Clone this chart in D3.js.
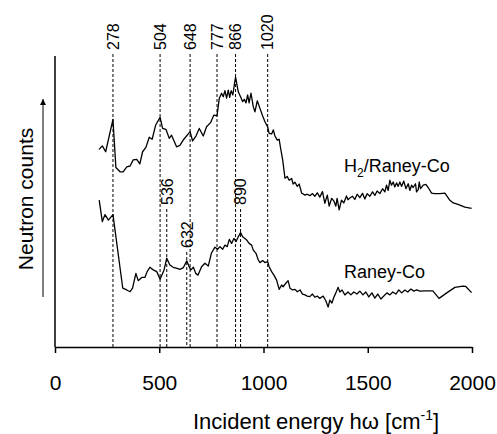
<!DOCTYPE html>
<html>
<head>
<meta charset="utf-8">
<script src="https://cdn.jsdelivr.net/npm/d3@7"></script>
<style>
  html, body { margin: 0; padding: 0; background: #fff; }
  svg { display: block; font-family: "Liberation Sans", Arial, Helvetica, sans-serif; }
</style>
</head>
<body>
<svg id="chart" width="497" height="434"></svg>
<script>
// Inelastic neutron scattering spectra (arbitrary count units, curves offset)
const h2Energy = [211,227,243,278,292,312,327,344,360,375,392,407,420,436,452,466,483,504,516,532,548,559,583,599,618,648,660,676,692,711,727,746,762,777,788,799,807,815,823,831,838,845,853,861,866,879,890,900,908,916,924,931,940,951,959,970,983,996,1007,1020,1027,1039,1047,1055,1066,1075,1082,1092,1103,1114,1123,1135,1142,1151,1162,1171,1183,1199,1210,1222,1235,1246,1258,1270,1283,1294,1306,1315,1327,1338,1347,1353,1363,1374,1385,1398,1405,1414,1427,1438,1449,1462,1475,1486,1497,1510,1523,1534,1545,1558,1571,1582,1590,1598,1606,1614,1622,1630,1638,1646,1654,1662,1673,1683,1694,1702,1710,1718,1729,1734,1742,1747,1753,1766,1779,1790,1806,1822,1846,1870,1894,1910,1933,1966,1998];
const h2Counts = [67.9,69.1,67.1,78.2,61.7,60.2,60.2,61.9,62.2,64.3,64.5,62.9,67.1,68.6,72.1,71.4,76.3,78.9,75.1,74.8,71.7,72.8,68.8,69.3,71.4,74.0,70.8,72.5,75.1,72.5,75.7,77.1,79.7,79.4,85.5,87.2,86.0,88.1,85.5,88.3,85.8,88.1,86.6,90.6,92.7,87.7,86.0,84.3,85.1,83.9,86.6,83.9,87.2,82.6,80.8,84.6,82.0,79.4,77.4,75.6,73.4,73.2,74.6,72.5,71.1,71.4,68.3,64.3,58.0,58.6,57.3,57.9,56.0,56.6,55.2,56.0,52.9,52.2,52.5,52.0,52.7,51.8,53.0,51.5,53.4,49.4,52.2,48.4,51.1,50.1,48.4,51.1,47.1,50.5,49.5,51.9,50.6,51.2,51.8,50.7,52.5,51.3,52.8,50.9,52.7,51.8,53.3,52.1,53.6,52.7,54.4,53.3,55.6,53.8,57.3,55.6,56.7,55.0,56.4,55.2,56.7,55.2,57.0,54.4,56.1,53.8,55.6,54.8,56.1,53.3,54.1,56.7,54.4,55.6,55.9,54.8,52.9,52.7,52.7,52.9,50.4,49.5,49.0,48.1,47.6];

const coEnergy = [212,227,240,256,278,325,344,360,372,388,399,416,431,442,455,471,488,504,523,536,551,567,586,599,616,632,642,652,664,675,686,703,719,735,750,767,780,791,804,815,826,836,847,858,868,879,890,900,911,919,931,943,951,964,975,983,996,1007,1020,1027,1039,1050,1063,1075,1087,1094,1107,1118,1127,1140,1151,1162,1175,1187,1199,1210,1222,1235,1246,1258,1270,1286,1299,1310,1318,1328,1338,1347,1358,1366,1377,1390,1405,1419,1433,1448,1462,1477,1491,1505,1520,1534,1548,1563,1577,1592,1606,1620,1635,1649,1663,1678,1692,1707,1721,1735,1750,1778,1812,1842,1879,1918,1956,1970,1998];
const coCounts = [50.5,43.1,45.5,43.6,45.5,20.2,19.6,19.0,20.2,25.3,22.8,23.9,23.9,25.9,27.4,26.5,25.9,23.3,26.5,30.5,28.2,27.4,27.0,26.7,27.3,29.6,27.8,26.5,27.4,25.3,24.7,27.6,28.8,27.8,32.2,34.3,33.6,34.5,33.6,35.0,34.5,37.0,35.6,37.3,36.2,37.9,39.3,37.9,37.3,36.8,35.6,35.0,33.3,32.2,29.9,29.0,29.7,29.0,29.3,27.6,25.9,24.7,23.0,19.8,21.3,20.7,21.9,22.8,20.2,19.6,19.8,19.0,19.6,18.2,17.9,17.5,17.3,18.2,17.1,17.5,16.7,17.5,15.9,13.7,16.1,15.1,17.2,18.6,20.5,18.9,19.6,17.9,18.9,17.9,18.9,18.2,19.2,17.9,18.9,17.2,18.6,16.8,18.2,16.5,17.5,18.6,17.9,18.9,18.2,19.6,18.6,19.6,18.9,19.9,19.2,19.6,19.2,19.3,19.3,16.7,18.6,20.5,20.9,20.8,18.7];

// Band assignments (cm-1)
const peaksUpper = [278, 504, 648, 777, 866, 1020];
const peaksLower = [536, 632, 890];

const xTicks = [0, 500, 1000, 1500, 2000];
const seriesNames = ["H2/Raney-Co", "Raney-Co"];

const svg = d3.select("#chart");
const margin = { left: 55, right: 25, top: 56, bottom: 87 };
const W = 497, H = 434;
const plotW = W - margin.left - margin.right;
const plotH = H - margin.top - margin.bottom;

const x = d3.scaleLinear().domain([0, 2000]).range([margin.left, margin.left + plotW]);
const y = d3.scaleLinear().domain([0, 100]).range([margin.top + plotH, margin.top]);

const g = svg.append("g");

// dashed reference lines for band positions
const labelBottomUpper = 50;               // where the vertical top labels end
const lowerLabelBottom = { 536: 205, 632: 248, 890: 205 };

g.selectAll("line.peakU").data(peaksUpper).enter().append("line")
  .attr("x1", d => x(d)).attr("x2", d => x(d))
  .attr("y1", labelBottomUpper + 4).attr("y2", y(0))
  .attr("stroke", "#000").attr("stroke-width", 1).attr("stroke-dasharray", "3,2");

g.selectAll("text.peakU").data(peaksUpper).enter().append("text")
  .attr("transform", d => `translate(${x(d)},${labelBottomUpper}) rotate(-90)`)
  .attr("dy", "0.36em").attr("text-anchor", "start")
  .attr("font-size", 16).text(d => d);

g.selectAll("line.peakL").data(peaksLower).enter().append("line")
  .attr("x1", d => x(d)).attr("x2", d => x(d))
  .attr("y1", d => lowerLabelBottom[d] + 4).attr("y2", y(0))
  .attr("stroke", "#000").attr("stroke-width", 1).attr("stroke-dasharray", "3,2");

g.selectAll("text.peakL").data(peaksLower).enter().append("text")
  .attr("transform", d => `translate(${x(d)},${lowerLabelBottom[d]}) rotate(-90)`)
  .attr("dy", "0.36em").attr("text-anchor", "start")
  .attr("font-size", 16).text(d => d);

// spectra
const line = d3.line().x(d => x(d[0])).y(d => y(d[1]));
const h2Data = h2Energy.map((e, i) => [e, h2Counts[i]]);
const coData = coEnergy.map((e, i) => [e, coCounts[i]]);

g.append("path").datum(h2Data).attr("d", line)
  .attr("fill", "none").attr("stroke", "#000").attr("stroke-width", 1.3).attr("stroke-linejoin", "round");
g.append("path").datum(coData).attr("d", line)
  .attr("fill", "none").attr("stroke", "#000").attr("stroke-width", 1.3).attr("stroke-linejoin", "round");

// axes
const xAxis = d3.axisBottom(x).tickValues(xTicks).tickFormat(d3.format("d"))
  .tickSizeInner(6).tickSizeOuter(0).tickPadding(22);
const ax = svg.append("g").attr("transform", `translate(0,${y(0)})`).call(xAxis);
ax.select(".domain").attr("stroke", "#000").attr("stroke-width", 1.5);
ax.selectAll(".tick line").attr("stroke", "#000").attr("stroke-width", 1.5);
ax.selectAll(".tick text").attr("font-size", 21).attr("fill", "#000")
  .attr("font-family", "Liberation Sans, Arial, sans-serif");

svg.append("line")
  .attr("x1", x(0)).attr("x2", x(0))
  .attr("y1", y(100)).attr("y2", y(0))
  .attr("stroke", "#000").attr("stroke-width", 1.5);

// arrow beside the count axis
svg.append("defs").append("marker")
  .attr("id", "arrowHead").attr("viewBox", "0 0 10 10")
  .attr("refX", 10).attr("refY", 5)
  .attr("markerWidth", 6).attr("markerHeight", 7)
  .attr("markerUnits", "userSpaceOnUse")
  .attr("orient", "auto")
  .append("path").attr("d", "M0,0 L10,5 L0,10 Z").attr("fill", "#000");

svg.append("line")
  .attr("x1", 43).attr("x2", 43)
  .attr("y1", 297).attr("y2", 99)
  .attr("stroke", "#000").attr("stroke-width", 1)
  .attr("marker-end", "url(#arrowHead)");

// axis titles
svg.append("text")
  .attr("transform", "translate(33,199) rotate(-90)")
  .attr("text-anchor", "middle").attr("font-size", 21).text("Neutron counts");

const xt = svg.append("text")
  .attr("x", 316).attr("y", 429)
  .attr("text-anchor", "middle").attr("font-size", 22);
xt.append("tspan").text("Incident energy hω [cm");
xt.append("tspan").attr("dy", -9).attr("font-size", 14).text("-1");
xt.append("tspan").attr("dy", 9).text("]");

// series labels
const l1 = svg.append("text").attr("x", 344).attr("y", 172).attr("font-size", 18);
l1.append("tspan").text("H");
l1.append("tspan").attr("dy", 5).attr("font-size", 12).text("2");
l1.append("tspan").attr("dy", -5).text("/Raney-Co");

svg.append("text").attr("x", 344).attr("y", 278).attr("font-size", 18).text(seriesNames[1]);
</script>
</body>
</html>
